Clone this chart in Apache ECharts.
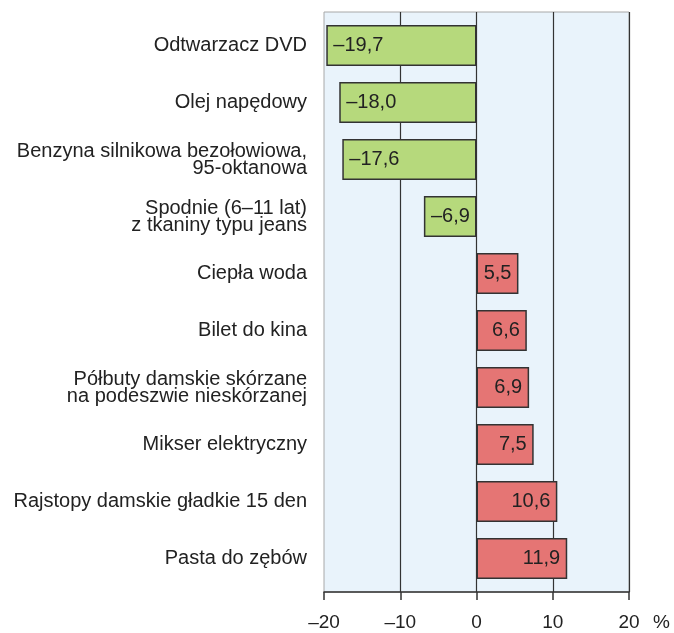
<!DOCTYPE html>
<html>
<head>
<meta charset="utf-8">
<script src="https://cdn.jsdelivr.net/npm/echarts@6/dist/echarts.min.js"></script>
<style>
    html, body { margin: 0; padding: 0; background: #fff; }
    #chart { width: 674px; height: 633px; }
</style>
</head>
<body>
<div id="chart"></div>
<script>
// products, top to bottom
var categories = [
    'Odtwarzacz DVD',
    'Olej napędowy',
    'Benzyna silnikowa bezołowiowa,\n95-oktanowa',
    'Spodnie (6–11 lat)\nz tkaniny typu jeans',
    'Ciepła woda',
    'Bilet do kina',
    'Półbuty damskie skórzane\nna podeszwie nieskórzanej',
    'Mikser elektryczny',
    'Rajstopy damskie gładkie 15 den',
    'Pasta do zębów'
];
var values = [-19.7, -18.0, -17.6, -6.9, 5.5, 6.6, 6.9, 7.5, 10.6, 11.9];
var xTicks = [-20, -10, 0, 10, 20];

function fmt(v) {
    var s = Math.abs(v).toFixed(1).replace('.', ',');
    return v < 0 ? '–' + s : s;
}

var barData = values.map(function (v) {
    return {
        value: v,
        itemStyle: { color: v < 0 ? '#b6d97c' : '#e57574' },
        label: { position: v < 0 ? 'insideLeft' : 'insideRight' }
    };
});

var myChart = echarts.init(document.getElementById('chart'));
var option = {
    backgroundColor: '#ffffff',
    animation: false,
    textStyle: { fontFamily: 'Liberation Sans, Arial, sans-serif' },
    // grid 0: frame, axis and gridlines; grid 1: bars, a little inset
    grid: [{
        left: 324,
        right: 45,
        top: 12,
        bottom: 41,
        show: true,
        backgroundColor: '#e9f3fb',
        borderColor: '#a8a8a8',
        borderWidth: 1
    }, {
        left: 324,
        right: 45,
        top: 17,
        bottom: 46
    }],
    xAxis: [{
        gridIndex: 0,
        type: 'value',
        min: xTicks[0],
        max: xTicks[xTicks.length - 1],
        interval: 10,
        name: '%',
        nameLocation: 'end',
        nameGap: 24,
        nameTextStyle: {
            fontSize: 19,
            color: '#222',
            verticalAlign: 'top',
            padding: [21, 0, 0, 0]
        },
        axisLine: { show: true, lineStyle: { color: '#333', width: 1.5 } },
        axisTick: { show: true, length: 8, lineStyle: { color: '#333', width: 1.5 } },
        axisLabel: {
            fontSize: 19,
            color: '#222',
            margin: 21,
            formatter: function (v) { return v < 0 ? '–' + Math.abs(v) : String(v); }
        },
        splitLine: {
            show: true,
            showMinLine: false,
            lineStyle: { color: '#333', width: 1.2 }
        }
    }, {
        gridIndex: 1,
        type: 'value',
        min: xTicks[0],
        max: xTicks[xTicks.length - 1],
        interval: 10,
        show: false
    }],
    yAxis: [{
        gridIndex: 0,
        type: 'category',
        data: categories,
        show: false
    }, {
        gridIndex: 1,
        type: 'category',
        data: categories,
        inverse: true,
        axisLine: { show: false },
        axisTick: { show: false },
        splitLine: { show: false },
        axisLabel: {
            fontSize: 20,
            lineHeight: 17,
            color: '#222',
            margin: 17,
            align: 'right'
        }
    }],
    series: [{
        type: 'bar',
        xAxisIndex: 1,
        yAxisIndex: 1,
        data: barData,
        barCategoryGap: '28%',
        itemStyle: { borderColor: '#333', borderWidth: 1.5 },
        label: {
            show: true,
            fontSize: 20,
            color: '#222',
            distance: 7,
            formatter: function (p) { return fmt(p.value); }
        }
    }]
};
myChart.setOption(option);
</script>
</body>
</html>
